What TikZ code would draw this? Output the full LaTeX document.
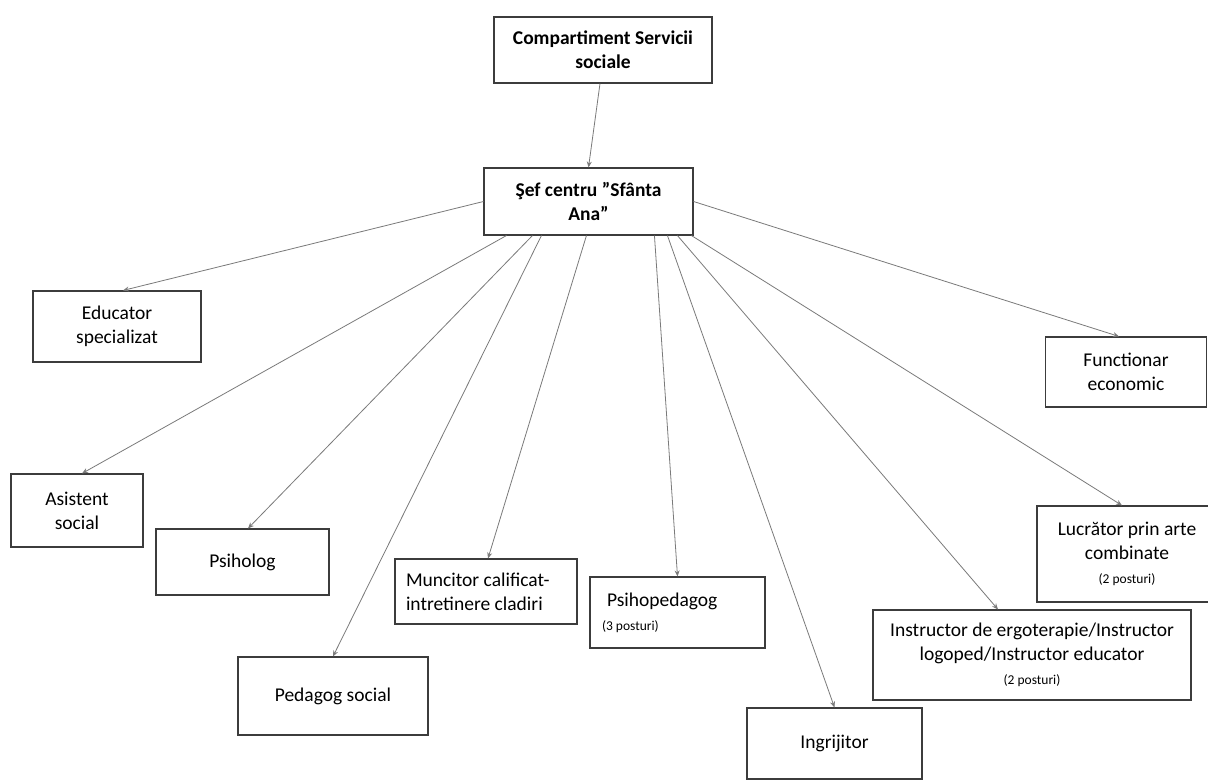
\documentclass[tikz,border=0pt]{standalone}
\usepackage{fontspec}
\setmainfont{Carlito}
\usetikzlibrary{arrows.meta}
\definecolor{boxline}{HTML}{3C3C3C}
\definecolor{linkline}{HTML}{7A7A7A}
\newcommand{\posturi}[1]{{\fontsize{13.5}{16}\selectfont (#1 posturi)}}
\begin{document}
\begin{tikzpicture}[x=1pt,y=-1pt,
            -{Stealth[length=6pt,width=5pt]},
            main node/.style={rectangle,draw=boxline,line width=1.1pt,align=center,
                font=\fontsize{19.5}{24}\selectfont,text=black},
            head node/.style={main node,font=\fontsize{19.5}{24}\selectfont\bfseries}]

        \useasboundingbox[fill=white] (0,0) rectangle (1208,783);

        % Define vertices
        \node[head node,minimum width=218pt,minimum height=66pt] (comp) at (603,50)
            {Compartiment Servicii\\ sociale};
        \node[head node,minimum width=209pt,minimum height=67pt] (sef) at (588.5,201.5)
            {Şef centru ”Sfânta\\ Ana”};
        \node[main node,minimum width=168pt,minimum height=71pt] (edu) at (117,326.5)
            {Educator\\ specializat};
        \node[main node,minimum width=161pt,minimum height=70pt] (func) at (1126,372)
            {Functionar\\ economic};
        \node[main node,minimum width=132pt,minimum height=73pt] (asis) at (77,510.5)
            {Asistent\\ social};
        \node[main node,minimum width=173pt,minimum height=66pt] (psih) at (242.5,562)
            {Psiholog};
        \node[main node,minimum height=65pt,text width=160pt,inner xsep=11pt,align=flush left] (munc) at (486,591.5)
            {Muncitor calificat-\\ intretinere cladiri};
        \node[main node,minimum height=71pt,text width=151pt,inner xsep=12pt,align=flush left] (psiped) at (677.5,612.5)
            {\hspace*{5pt}Psihopedagog\\ \posturi{3}};
        \node[main node,minimum width=190pt,minimum height=78pt] (ped) at (333,696)
            {Pedagog social};
        \node[main node,minimum width=175pt,minimum height=71pt] (ingr) at (834.5,743.5)
            {Ingrijitor};
        \node[main node,minimum width=180pt,minimum height=96pt] (lucr) at (1127,554)
            {Lucrător prin arte\\ combinate\\ \posturi{2}};
        \node[main node,minimum width=318pt,minimum height=90pt] (instr) at (1032,655)
            {Instructor de ergoterapie/Instructor\\ logoped/Instructor educator\\ \posturi{2}};

        % Draw edges
        \path[every edge/.style={draw=linkline,line width=0.8pt}]
            ([xshift=-3pt]comp.south) edge (sef.north)
            (sef.west) edge ([xshift=6pt]edu.north)
            (sef.east) edge ([xshift=-7pt]func.north)
            ([xshift=23pt]sef.south west) edge ([xshift=5pt]asis.north)
            ([xshift=49pt]sef.south west) edge ([xshift=5.5pt]psih.north)
            ([xshift=58pt]sef.south west) edge (ped.north)
            ([xshift=103pt]sef.south west) edge ([xshift=2pt]munc.north)
            ([xshift=171pt]sef.south west) edge (psiped.north)
            ([xshift=184pt]sef.south west) edge (ingr.north)
            ([xshift=194pt]sef.south west) edge ([xshift=-34pt]instr.north)
            ([xshift=208pt]sef.south west) edge ([xshift=-5pt]lucr.north);

        \end{tikzpicture}
\end{document}
